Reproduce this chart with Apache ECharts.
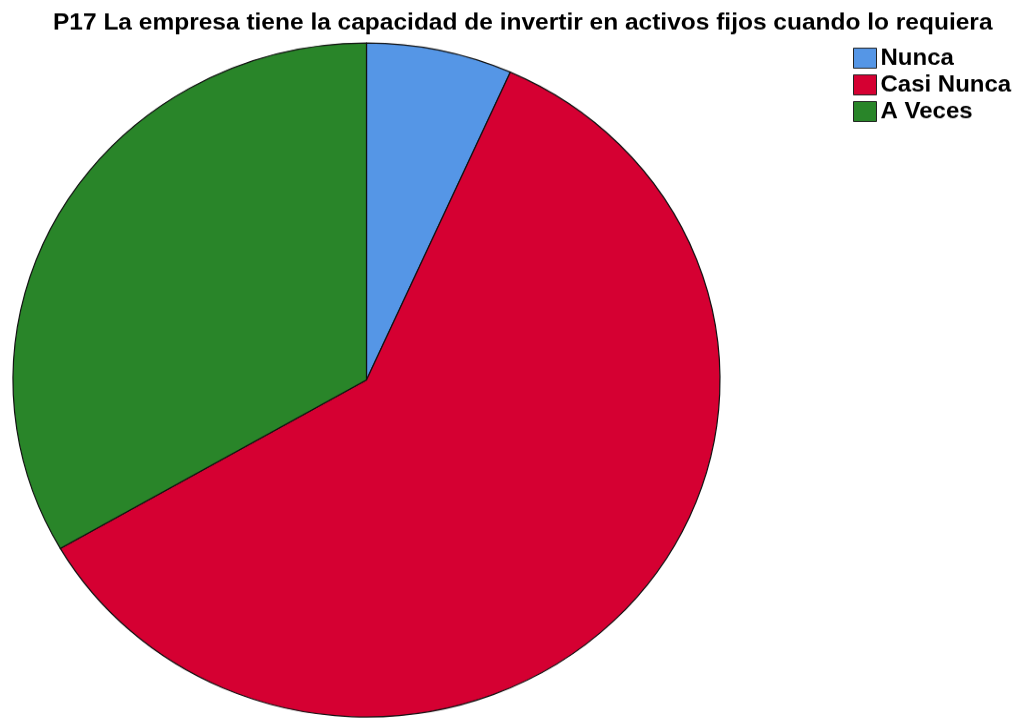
<!DOCTYPE html>
<html>
<head>
<meta charset="utf-8">
<script src="https://cdn.jsdelivr.net/npm/echarts@6/dist/echarts.min.js"></script>
<style>
html,body{margin:0;padding:0;background:#fff;overflow:hidden;width:1025px;height:718px;}
#chart{position:absolute;left:0;top:0;width:1025px;height:760px;transform-origin:0 0;transform:scaleY(0.9533);}
</style>
</head>
<body>
<div id="chart"></div>
<script>
const titleText = 'P17 La empresa tiene la capacidad de invertir en activos fijos cuando lo requiera';
const categories = ['Nunca', 'Casi Nunca', 'A Veces'];
const values = [2, 18, 10];
const colors = ['#5596e6', '#d50032', '#298529'];

const chart = echarts.init(document.getElementById('chart'), null, {renderer: 'canvas'});
chart.setOption({
  animation: false,
  backgroundColor: '#ffffff',
  title: {
    text: titleText,
    left: 53,
    top: 12,
    padding: 0,
    textStyle: {fontFamily: 'Liberation Sans, Arial, sans-serif', fontWeight: 'bold', fontSize: 24.5, color: '#000'}
  },
  legend: {
    orient: 'vertical',
    left: 853,
    top: 49,
    padding: 0,
    itemWidth: 23,
    itemHeight: 21,
    itemGap: 4,
    icon: 'rect',
    selectedMode: false,
    data: categories,
    itemStyle: {borderColor: '#222', borderWidth: 1},
    textStyle: {fontFamily: 'Liberation Sans, Arial, sans-serif', fontWeight: 'bold', fontSize: 24, color: '#000', padding: [0,0,0,-1], lineHeight: 21}
  },
  series: [{
    type: 'pie',
    center: [366.5, 398.6],
    radius: [0, 353.5],
    startAngle: 90,
    clockwise: true,
    silent: true,
    label: {show: false},
    labelLine: {show: false},
    emphasis: {disabled: true},
    itemStyle: {borderColor: '#111', borderWidth: 1.2},
    data: categories.map((c, i) => ({name: c, value: values[i], itemStyle: {color: colors[i]}}))
  }]
});
</script>
</body>
</html>
